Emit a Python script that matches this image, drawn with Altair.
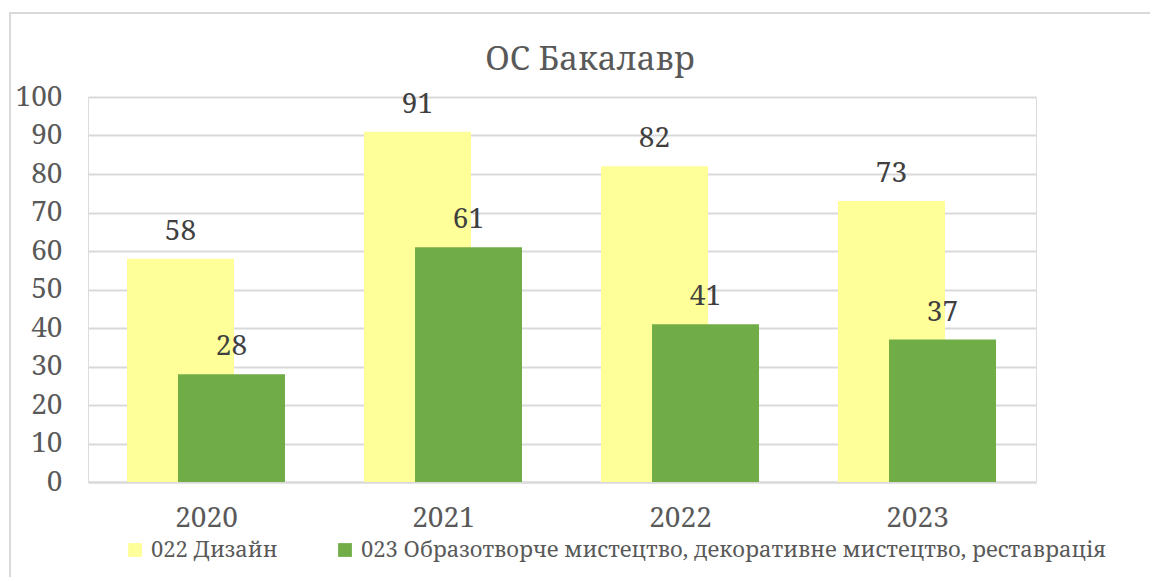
import altair as alt
import pandas as pd

years = ["2020", "2021", "2022", "2023"]
series = ["022 Дизайн", "023 Образотворче мистецтво, декоративне мистецтво, реставрація"]
design = [58, 91, 82, 73]
art = [28, 61, 41, 37]
colors = ["#FFFF99", "#70AD47"]
title_text = ["ОС Бакалавр"]

rows = []
for y, v in zip(years, design):
    rows.append({"year": y, "series": series[0], "value": v})
for y, v in zip(years, art):
    rows.append({"year": y, "series": series[1], "value": v})
df = pd.DataFrame(rows)

FONT = "Noto Serif"

x_enc = alt.X("year:N", sort=years, title=None,
              scale=alt.Scale(paddingInner=0, paddingOuter=0),
              axis=alt.Axis(labelAngle=0, ticks=False, domain=True, domainColor="#D9D9D9",
                            domainWidth=2, labelFont=FONT, labelFontSize=28,
                            labelColor="#595959", labelPadding=22, grid=False))
y_enc = alt.Y("value:Q", title=None,
              scale=alt.Scale(domain=[0, 100], nice=False),
              axis=alt.Axis(values=list(range(0, 101, 10)), ticks=False, domain=False,
                            grid=True, gridColor="#D9D9D9", gridWidth=2,
                            labelFont=FONT, labelFontSize=28, labelColor="#595959",
                            labelPadding=26))
color_enc = alt.Color("series:N", sort=series,
                      scale=alt.Scale(domain=series, range=colors),
                      legend=alt.Legend(title=None, orient="none", direction="horizontal",
                                        legendX=36, legendY=442, symbolType="square",
                                        symbolSize=190, symbolStrokeWidth=0,
                                        labelFont=FONT, labelFontSize=22,
                                        labelColor="#595959", labelOffset=5,
                                        columnPadding=56, labelLimit=1000))

base = alt.Chart(df)

bar1 = base.transform_filter(alt.datum.series == series[0]).mark_bar(
    width=107, xOffset=-26).encode(x=x_enc, y=y_enc, color=color_enc)
bar2 = base.transform_filter(alt.datum.series == series[1]).mark_bar(
    width=107, xOffset=25).encode(x=x_enc, y=y_enc, color=color_enc)

txt1 = base.transform_filter(alt.datum.series == series[0]).mark_text(
    xOffset=-26, dy=-19, baseline="alphabetic", font=FONT, fontSize=28,
    color="#404040").encode(x=x_enc, y=y_enc, text="value:Q")
txt2 = base.transform_filter(alt.datum.series == series[1]).mark_text(
    xOffset=25, dy=-19, baseline="alphabetic", font=FONT, fontSize=28,
    color="#404040").encode(x=x_enc, y=y_enc, text="value:Q")

border = alt.Chart(pd.DataFrame({"a": [0]})).mark_rect(
    fill=None, stroke="#D9D9D9", strokeWidth=2).encode(
    x=alt.value(-78), x2=alt.value(1200), y=alt.value(-84), y2=alt.value(600))

title = alt.Chart(pd.DataFrame({"t": title_text})).mark_text(
    font=FONT, fontSize=33, color="#595959", baseline="alphabetic", align="center").encode(
    text="t:N", x=alt.value(502), y=alt.value(-27))

chart = alt.layer(border, bar1, bar2, txt1, txt2, title).properties(
    width=948, height=385,
    autosize=alt.AutoSizeParams(type="none"),
    padding={"left": 80, "top": 89, "right": 114, "bottom": 95},
).configure_view(stroke=None).configure(background="white")

chart.save("out.html", embed_options={"renderer": "svg", "actions": False})
